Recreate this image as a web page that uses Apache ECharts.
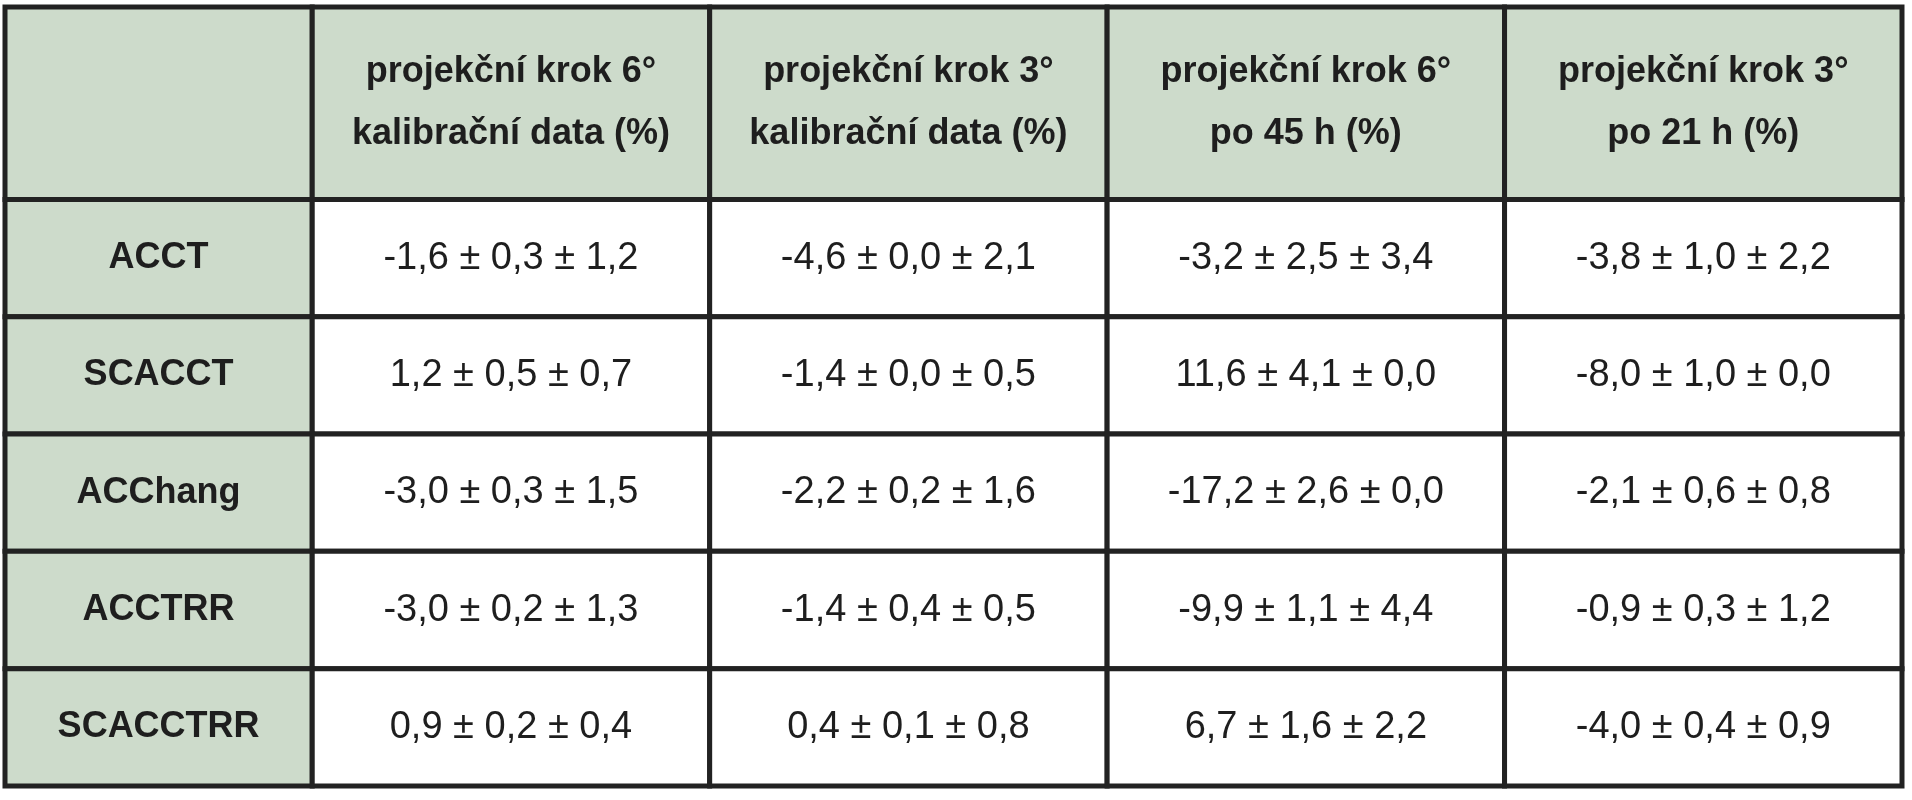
<!DOCTYPE html><html><head><meta charset="utf-8">
<script src="https://cdn.jsdelivr.net/npm/echarts@6/dist/echarts.min.js"></script>
<style>html,body{margin:0;padding:0;background:#fff}#c{width:1912px;height:800px}</style></head><body><div id="c"></div>
<script>
const columns = ["projekční krok 6°\nkalibrační data (%)", "projekční krok 3°\nkalibrační data (%)", "projekční krok 6°\npo 45 h (%)", "projekční krok 3°\npo 21 h (%)"];
const rowLabels = ["ACCT", "SCACCT", "ACChang", "ACCTRR", "SCACCTRR"];
const col1 = ["-1,6 ± 0,3 ± 1,2", "1,2 ± 0,5 ± 0,7", "-3,0 ± 0,3 ± 1,5", "-3,0 ± 0,2 ± 1,3", "0,9 ± 0,2 ± 0,4"];
const col2 = ["-4,6 ± 0,0 ± 2,1", "-1,4 ± 0,0 ± 0,5", "-2,2 ± 0,2 ± 1,6", "-1,4 ± 0,4 ± 0,5", "0,4 ± 0,1 ± 0,8"];
const col3 = ["-3,2 ± 2,5 ± 3,4", "11,6 ± 4,1 ± 0,0", "-17,2 ± 2,6 ± 0,0", "-9,9 ± 1,1 ± 4,4", "6,7 ± 1,6 ± 2,2"];
const col4 = ["-3,8 ± 1,0 ± 2,2", "-8,0 ± 1,0 ± 0,0", "-2,1 ± 0,6 ± 0,8", "-0,9 ± 0,3 ± 1,2", "-4,0 ± 0,4 ± 0,9"];

const colEdges = [0, 0.773, 1.773, 2.773, 3.773, 4.773];
const rowEdges = [0, 1.64, 2.64, 3.64, 4.64, 5.64, 6.64];
const dataCols = [col1, col2, col3, col4];
const cells = [];
for (let r = 0; r < 6; r++) for (let c = 0; c < 5; c++) {
  let text = "", header = false, kind = 'data';
  if (r === 0) { text = c === 0 ? "" : columns[c-1]; header = true; kind = 'head'; }
  else if (c === 0) { text = rowLabels[r-1]; header = true; kind = 'row'; }
  else text = dataCols[c-1][r-1];
  cells.push({value: [colEdges[c], rowEdges[r], colEdges[c+1], rowEdges[r+1]], text, header, kind});
}
const fam = '"Liberation Sans Narrow", "Liberation Sans", Arial, sans-serif';
const fonts = {head: 'bold 36px ' + fam, row: 'bold 36px ' + fam, data: '38px ' + fam};
const chart = echarts.init(document.getElementById('c'));
chart.setOption({
  animation: false,
  grid: {left: 5, right: 10, top: 7, bottom: 14},
  xAxis: {type: 'value', min: 0, max: 4.773, show: false},
  yAxis: {type: 'value', min: 0, max: 6.64, inverse: true, show: false},
  series: [{
    type: 'custom',
    data: cells,
    renderItem: function (params, api) {
      const d = cells[params.dataIndex];
      const p0 = api.coord([api.value(0), api.value(1)]);
      const p1 = api.coord([api.value(2), api.value(3)]);
      return {type: 'group', children: [
        {type: 'rect', shape: {x: p0[0], y: p0[1], width: p1[0]-p0[0], height: p1[1]-p0[1]},
         style: {fill: d.header ? '#cddbcb' : '#ffffff', stroke: '#222222', lineWidth: 5}},
        {type: 'text', style: {text: d.text, x: (p0[0]+p1[0])/2, y: (p0[1]+p1[1])/2,
          align: 'center', verticalAlign: 'middle', fill: '#1e1e1e',
          font: fonts[d.kind], lineHeight: 62}}
      ]};
    }
  }]
});
</script></body></html>
